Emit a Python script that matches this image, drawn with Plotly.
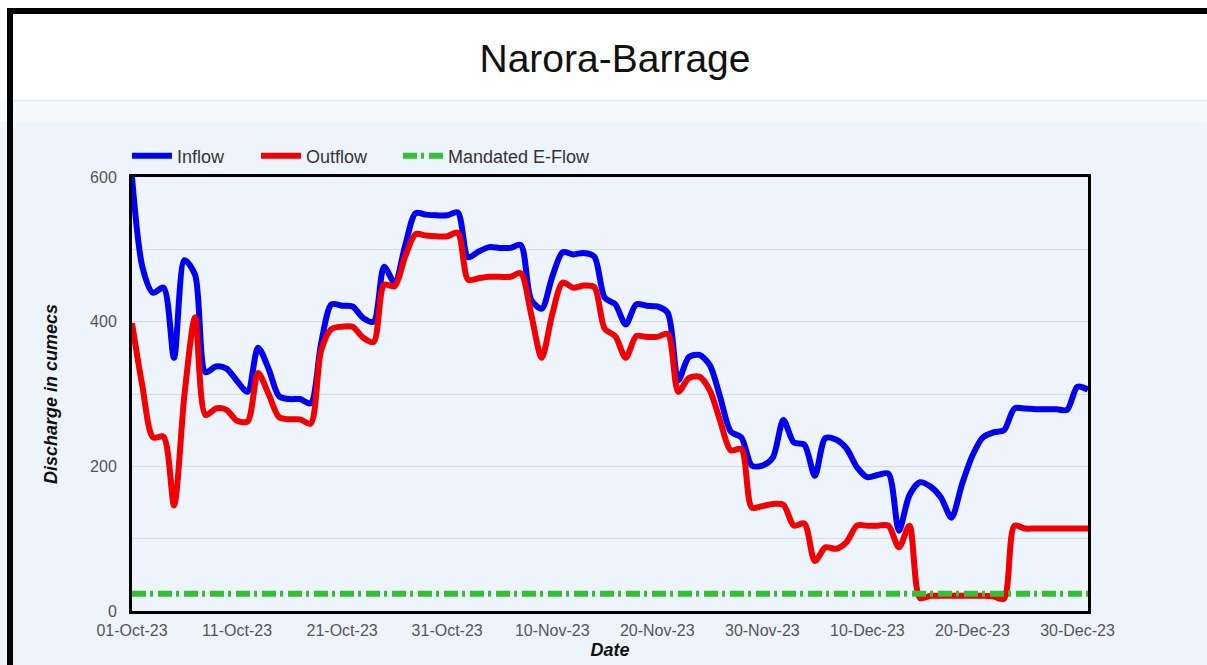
import pandas as pd
import plotly.graph_objects as go

dates = pd.date_range("2023-10-01", "2023-12-31", freq="D")

inflow = [600, 475, 440, 447, 350, 485, 465, 330, 338, 335,
          318, 303, 364, 335, 297, 293, 293, 287, 370, 424,
          422, 421, 405, 400, 476, 454, 505, 550, 548, 547,
          547, 551, 489, 497, 503, 502, 502, 506, 430, 418,
          462, 496, 493, 495, 490, 433, 424, 396, 424, 422,
          421, 412, 319, 351, 354, 340, 295, 248, 240, 201,
          201, 212, 264, 233, 230, 187, 239, 237, 225, 199,
          185, 188, 190, 111, 160, 178, 172, 157, 129, 175,
          215, 240, 247, 250, 280, 280, 279, 279, 279, 278,
          310, 306]

outflow = [398, 310, 240, 241, 146, 300, 406, 271, 280, 278,
           263, 262, 329, 300, 268, 265, 265, 259, 360, 390,
           393, 393, 378, 372, 451, 449, 490, 521, 519, 518,
           518, 523, 458, 460, 462, 462, 462, 467, 410, 350,
           410, 454, 447, 450, 448, 390, 380, 350, 380, 379,
           379, 383, 303, 322, 324, 305, 262, 222, 224, 143,
           145, 148, 147, 118, 121, 69, 88, 86, 95, 118,
           118, 118, 118, 88, 118, 18, 21, 21, 21, 21,
           21, 21, 20, 17, 118, 114, 114, 114, 114, 114,
           114, 114]

eflow_value = 24
eflow = [eflow_value] * len(dates)

y_tickvals = [0, 100, 200, 300, 400, 500, 600]
y_ticktext = ["0", "", "200", "", "400", "", "600"]
x_tickvals = pd.date_range("2023-10-01", "2023-12-30", freq="10D")
x_ticktext = [d.strftime("%d-%b-%y") for d in x_tickvals]

fig = go.Figure()
fig.add_trace(go.Scatter(x=dates, y=inflow, name="Inflow", mode="lines", legend="legend",
                         line=dict(color="#0000F0", width=6, shape="spline", smoothing=0.8)))
fig.add_trace(go.Scatter(x=dates, y=outflow, name="Outflow", mode="lines", legend="legend2",
                         line=dict(color="#F00000", width=6, shape="spline", smoothing=0.8)))
fig.add_trace(go.Scatter(x=dates, y=eflow, name="Mandated E-Flow", mode="lines", legend="legend3",
                         line=dict(color="#33C033", width=6, dash="14px,4px,3px,5px")))

# plot area in pixels: x 132..1088, y 177..611
L, R, T, B = 132, 1088, 177, 611
W, H = 1207, 665
def px(x):
    return (x - L) / (R - L)
def py(y):
    return (B - y) / (B - T)

shapes = [
    dict(type="rect", xref="paper", yref="paper", x0=px(0), x1=px(W), y0=py(100), y1=py(0),
         fillcolor="white", line=dict(width=0), layer="below"),
    dict(type="rect", xref="paper", yref="paper", x0=px(0), x1=px(W), y0=py(121), y1=py(100),
         fillcolor="#F7FAFD", line=dict(width=0), layer="below"),
    dict(type="line", xref="paper", yref="paper", x0=px(13), x1=px(W), y0=py(100.5), y1=py(100.5),
         line=dict(color="#E6E6E6", width=1.5)),
    dict(type="rect", xref="paper", yref="paper", x0=px(7), x1=px(W + 5), y0=py(14), y1=py(8),
         fillcolor="black", line=dict(width=0)),
    dict(type="rect", xref="paper", yref="paper", x0=px(7), x1=px(13), y0=py(W), y1=py(8),
         fillcolor="black", line=dict(width=0)),
]

legend_common = dict(orientation="h", xanchor="left", y=py(156), yanchor="middle",
                     font=dict(size=18, color="#333333"), bgcolor="rgba(0,0,0,0)",
                     itemwidth=40)

fig.update_layout(
    width=W, height=H,
    margin=dict(l=L, r=W - R, t=T, b=H - B, autoexpand=False),
    paper_bgcolor="#EEF4FC",
    plot_bgcolor="#EEF4FC",
    font=dict(family="Liberation Sans, Arial, sans-serif", color="#555555"),
    title=dict(text="Narora-Barrage", x=615 / W, xref="container", xanchor="center",
               y=1 - 58 / H, yanchor="middle",
               font=dict(size=39, color="#111111", family="Liberation Sans, Arial")),
    legend=dict(x=px(127), **legend_common),
    legend2=dict(x=px(256), **legend_common),
    legend3=dict(x=px(398), **legend_common),
    shapes=shapes,
    showlegend=True,
)

fig.update_xaxes(
    range=[dates[0], dates[-1]],
    tickvals=x_tickvals, ticktext=x_ticktext,
    tickfont=dict(size=16, color="#555555"),
    showgrid=False, zeroline=False, automargin=False,
    showline=True, linecolor="black", linewidth=3, mirror=True,
    ticks="outside", ticklen=3, tickcolor="rgba(0,0,0,0)",
    title=dict(text="<b><i>Date</i></b>", font=dict(size=18, color="#111111"), standoff=6),
)
fig.update_yaxes(
    range=[0, 600],
    tickvals=y_tickvals, ticktext=y_ticktext,
    tickfont=dict(size=16, color="#555555"),
    showgrid=True, gridcolor="#D8DCE2", gridwidth=1,
    zeroline=False, automargin=False,
    showline=True, linecolor="black", linewidth=3, mirror=True,
    ticks="outside", ticklen=9, tickcolor="rgba(0,0,0,0)",
    title=dict(text="<b><i>Discharge in cumecs</i></b>", font=dict(size=18, color="#111111"), standoff=28),
)

fig.write_html("out.html", config={"displayModeBar": False},
               post_script="document.body.style.margin='0';")
